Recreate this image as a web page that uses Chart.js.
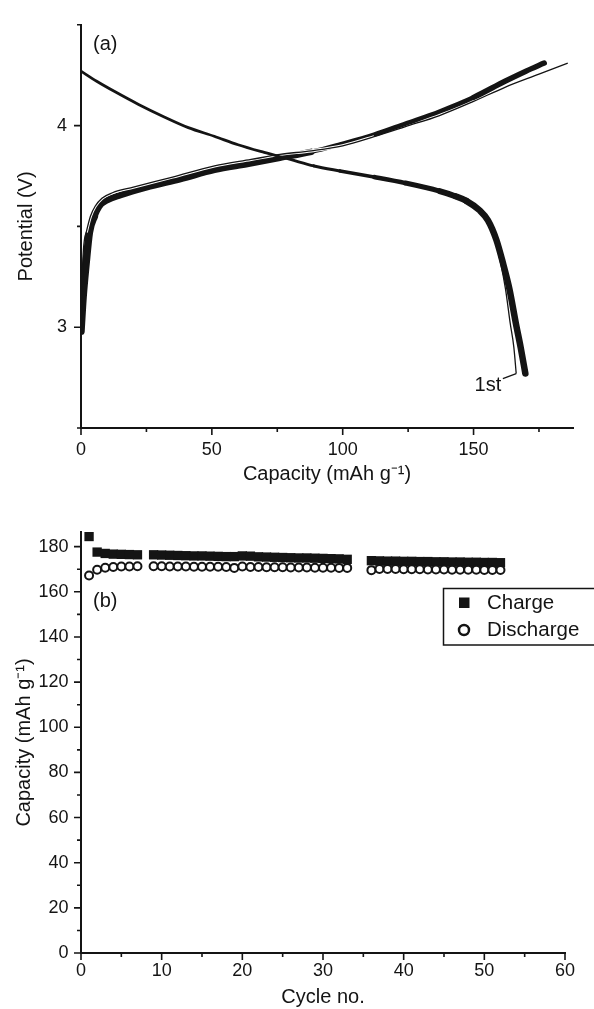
<!DOCTYPE html>
<html lang="en">
<head>
<meta charset="UTF-8" />
<title>Charge/discharge profiles and cycling</title>
<script src="https://cdn.jsdelivr.net/npm/chart.js"></script>
<style>
  html, body { margin: 0; padding: 0; background: #fff; }
  body { width: 594px; height: 1009px; position: relative; overflow: hidden; }
  canvas { position: absolute; left: 0; display: block; }
  #profiles { top: 0; }
  #cycling { top: 500px; }
</style>
</head>
<body>
<canvas id="profiles" width="594" height="500"></canvas>
<canvas id="cycling" width="594" height="509"></canvas>

<script>
  // ---- (a) potential profiles ----
  const chargeCap = [0, 0.8, 1.9, 3.2, 5.1, 7, 10, 15, 25, 38, 51, 64, 76, 88, 99, 112, 124, 137, 150, 162, 170, 177];
  const chargeV   = [2.98, 3.15, 3.31, 3.47, 3.55, 3.6, 3.63, 3.655, 3.694, 3.735, 3.78, 3.81, 3.84, 3.87, 3.907, 3.955, 4.01, 4.07, 4.14, 4.22, 4.27, 4.31];

  const dischargeCap = [0, 6, 12.7, 22, 31.8, 41, 50.9, 60, 70, 80, 89, 99, 112, 124, 137, 143, 147.2, 152.3, 155.5, 158.7, 161.2, 163.7, 166.2, 168, 169.8];
  const dischargeV   = [4.27, 4.22, 4.17, 4.105, 4.043, 3.99, 3.947, 3.905, 3.867, 3.832, 3.8, 3.775, 3.745, 3.715, 3.675, 3.65, 3.627, 3.58, 3.53, 3.434, 3.32, 3.19, 3.017, 2.9, 2.77];

  const firstChargeCap = [0.3, 0.6, 2.0, 3.6, 5.4, 8, 12, 20, 35, 51, 65, 76, 88, 100, 112, 124, 137, 150, 162, 175, 186];
  const firstChargeV   = [3.0, 3.3, 3.47, 3.55, 3.6, 3.64, 3.667, 3.695, 3.745, 3.8, 3.832, 3.857, 3.875, 3.9, 3.945, 3.995, 4.05, 4.12, 4.19, 4.255, 4.31];

  const firstDischargeCap = [147.2, 152.3, 155.2, 158.1, 160.3, 162.2, 164.0, 165.4, 166.3];
  const firstDischargeV   = [3.627, 3.58, 3.53, 3.434, 3.32, 3.19, 3.02, 2.9, 2.77];

  const capTicks = [0, 50, 100, 150];
  const capMinorTicks = [25, 75, 125, 175];
  const potTicks = [3, 4];
  const potMinorTicks = [2.5, 3.5, 4.5];

  // ---- (b) capacity vs cycle number ----
  const cycleNo = [1, 2, 3, 4, 5, 6, 7,
    9, 10, 11, 12, 13, 14, 15, 16, 17, 18, 19, 20, 21, 22, 23, 24, 25, 26, 27, 28, 29, 30, 31, 32, 33,
    36, 37, 38, 39, 40, 41, 42, 43, 44, 45, 46, 47, 48, 49, 50, 51, 52];
  const chargeCapacity = [184.5, 177.6, 177.0, 176.7, 176.6, 176.5, 176.4,
    176.4, 176.3, 176.2, 176.1, 176.0, 175.9, 175.9, 175.8, 175.7, 175.6, 175.6, 175.9, 175.8, 175.5, 175.4, 175.3, 175.2, 175.1, 175.0, 175.0, 174.9, 174.8, 174.7, 174.6, 174.4,
    173.8, 173.7, 173.6, 173.6, 173.5, 173.5, 173.4, 173.4, 173.3, 173.3, 173.2, 173.2, 173.1, 173.1, 173.0, 173.0, 172.9];
  const dischargeCapacity = [167.2, 169.8, 170.7, 171.0, 171.2, 171.2, 171.3,
    171.3, 171.3, 171.2, 171.2, 171.2, 171.1, 171.1, 171.1, 171.1, 171.0, 170.6, 171.2, 171.0, 171.0, 170.9, 170.9, 170.9, 170.8, 170.8, 170.8, 170.7, 170.7, 170.7, 170.6, 170.6,
    169.6, 170.1, 170.1, 170.1, 170.0, 170.0, 170.0, 169.9, 169.9, 169.9, 169.8, 169.8, 169.8, 169.8, 169.7, 169.7, 169.7];

  const cycleTicks = [0, 10, 20, 30, 40, 50, 60];
  const cycleMinorTicks = [5, 15, 25, 35, 45, 55];
  const capacityTicks = [0, 20, 40, 60, 80, 100, 120, 140, 160, 180];
  const capacityMinorTicks = [10, 30, 50, 70, 90, 110, 130, 150, 170];

  const INK = '#141414';
  const FONT = "'Liberation Sans', Arial, sans-serif";
  Chart.defaults.font.family = FONT;
  Chart.defaults.color = INK;

  const pts = (xs, ys) => xs.map((x, i) => ({ x: x, y: ys[i] }));

  // tick marks (major long, minor short) drawn on the axes
  const axisTicks = {
    id: 'axisTicks',
    afterDraw(chart, args, opts) {
      const { ctx, chartArea: a } = chart;
      const xs = chart.scales.x, ys = chart.scales.y;
      ctx.save();
      ctx.strokeStyle = INK;
      ctx.lineWidth = 1.6;
      ctx.beginPath();
      const tx = (vals, len) => vals.forEach(v => {
        const p = xs.getPixelForValue(v);
        ctx.moveTo(p, a.bottom); ctx.lineTo(p, a.bottom + len);
      });
      const ty = (vals, len) => vals.forEach(v => {
        const p = ys.getPixelForValue(v);
        ctx.moveTo(a.left, p); ctx.lineTo(a.left - len, p);
      });
      tx(opts.xMajor, 7); tx(opts.xMinor, 4);
      ty(opts.yMajor, 7); ty(opts.yMinor, 4);
      ctx.stroke();
      ctx.restore();
    }
  };

  // "(a)" / "(b)" panel tags
  const panelTag = {
    id: 'panelTag',
    afterDraw(chart, args, opts) {
      const { ctx, chartArea: a } = chart;
      ctx.save();
      ctx.fillStyle = INK;
      ctx.font = '20px ' + FONT;
      ctx.textBaseline = 'middle';
      ctx.fillText(opts.text, a.left + 12, a.top + opts.dy);
      ctx.restore();
    }
  };

  // "1st" label with its leader line
  const firstLabel = { text: '1st', cap: 160.6, v: 2.71, fromCap: 166.3, fromV: 2.77, toCap: 161.2, toV: 2.745 };
  const cycleLabel = {
    id: 'cycleLabel',
    afterDatasetsDraw(chart) {
      const { ctx } = chart;
      const xs = chart.scales.x, ys = chart.scales.y;
      ctx.save();
      ctx.strokeStyle = INK;
      ctx.lineWidth = 1.3;
      ctx.beginPath();
      ctx.moveTo(xs.getPixelForValue(firstLabel.fromCap), ys.getPixelForValue(firstLabel.fromV));
      ctx.lineTo(xs.getPixelForValue(firstLabel.toCap), ys.getPixelForValue(firstLabel.toV));
      ctx.stroke();
      ctx.fillStyle = INK;
      ctx.font = '20px ' + FONT;
      ctx.textAlign = 'right';
      ctx.textBaseline = 'middle';
      ctx.fillText(firstLabel.text, xs.getPixelForValue(firstLabel.cap), ys.getPixelForValue(firstLabel.v));
      ctx.restore();
    }
  };

  // boxed legend for (b), partly running off the right edge like the original
  const boxLegend = {
    id: 'boxLegend',
    afterDraw(chart) {
      const { ctx } = chart;
      ctx.save();
      ctx.strokeStyle = INK;
      ctx.lineWidth = 1.5;
      ctx.strokeRect(443.5, 88.5, 170, 56.5);
      ctx.fillStyle = INK;
      ctx.fillRect(459, 97.5, 10.5, 10.5);
      ctx.beginPath();
      ctx.arc(464, 130, 5, 0, Math.PI * 2);
      ctx.fillStyle = '#fff';
      ctx.fill();
      ctx.lineWidth = 2.5;
      ctx.stroke();
      ctx.fillStyle = INK;
      ctx.font = '20.5px ' + FONT;
      ctx.textBaseline = 'middle';
      ctx.fillText('Charge', 487, 103);
      ctx.fillText('Discharge', 487, 130);
      ctx.restore();
    }
  };

  const setTicks = list => scale => { scale.ticks = list.map(v => ({ value: v })); };

  // ---------------- chart (a) ----------------
  const chargeWidth = x => x < 5 ? 7.5 : x < 80 ? 6.5 : x < 150 ? 4.5 : 5.5;
  const dischargeWidth = x => x < 85 ? 2.8 : Math.min(6.5, 2.8 + (x - 85) * 0.06);

  new Chart(document.getElementById('profiles'), {
    type: 'scatter',
    data: {
      datasets: [
        {
          data: pts(firstDischargeCap, firstDischargeV), showLine: true, order: 0,
          borderColor: INK, borderWidth: 1.3, pointRadius: 0, cubicInterpolationMode: 'monotone'
        },
        {
          data: pts(dischargeCap, dischargeV), showLine: true, order: 1,
          borderColor: INK, borderWidth: 2.8, pointRadius: 0, cubicInterpolationMode: 'monotone',
          borderCapStyle: 'round',
          segment: { borderWidth: c => dischargeWidth(c.p0.parsed.x) }
        },
        {
          data: pts(firstChargeCap, firstChargeV), showLine: true, order: 2,
          borderColor: INK, borderWidth: 1.3, pointRadius: 0, cubicInterpolationMode: 'monotone'
        },
        {
          data: pts(firstChargeCap, firstChargeV), showLine: true, order: 3,
          borderColor: '#fff', borderWidth: 3.2, pointRadius: 0, cubicInterpolationMode: 'monotone',
          segment: { borderColor: c => c.p0.parsed.x < 110 && c.p0.parsed.x > 1.4 ? '#fff' : 'rgba(0,0,0,0)' }
        },
        {
          data: pts(chargeCap, chargeV), showLine: true, order: 4,
          borderColor: INK, borderWidth: 6.5, pointRadius: 0, cubicInterpolationMode: 'monotone',
          borderCapStyle: 'round',
          segment: { borderWidth: c => chargeWidth(c.p0.parsed.x) }
        }
      ]
    },
    options: {
      responsive: false,
      animation: false,
      events: [],
      layout: { padding: { top: 15, right: 21, left: 0, bottom: 0 } },
      plugins: {
        legend: { display: false },
        tooltip: { enabled: false },
        axisTicks: { xMajor: capTicks, xMinor: capMinorTicks, yMajor: potTicks, yMinor: potMinorTicks },
        panelTag: { text: '(a)', dy: 20 }
      },
      scales: {
        x: {
          type: 'linear', min: 0, max: 188,
          afterBuildTicks: setTicks(capTicks),
          afterFit: s => { s.height = 72; },
          grid: { display: false, drawTicks: false },
          border: { display: true, color: INK, width: 2 },
          ticks: { padding: 11, font: { size: 18 }, color: INK, maxRotation: 0 },
          title: { display: true, text: 'Capacity (mAh g\u207B\u00B9)', font: { size: 20 }, color: INK, padding: { top: 0, bottom: 14 } }
        },
        y: {
          type: 'linear', min: 2.5, max: 4.5,
          afterBuildTicks: setTicks(potTicks),
          afterFit: s => { s.width = 81; },
          grid: { display: false, drawTicks: false },
          border: { display: true, color: INK, width: 2 },
          ticks: { padding: 14, font: { size: 18 }, color: INK },
          title: { display: true, text: 'Potential (V)', font: { size: 20 }, color: INK, padding: { top: 14, bottom: 0 } }
        }
      }
    },
    plugins: [axisTicks, panelTag, cycleLabel]
  });

  // ---------------- chart (b) ----------------
  new Chart(document.getElementById('cycling'), {
    type: 'scatter',
    data: {
      datasets: [
        {
          label: 'Discharge',
          data: pts(cycleNo, dischargeCapacity),
          pointStyle: 'circle', pointRadius: 4, pointBorderWidth: 2,
          pointBackgroundColor: '#fff', pointBorderColor: INK
        },
        {
          label: 'Charge',
          data: pts(cycleNo, chargeCapacity),
          pointStyle: 'rect', pointRadius: 6.6, pointBorderWidth: 0,
          pointBackgroundColor: INK, pointBorderColor: INK
        }
      ]
    },
    options: {
      responsive: false,
      animation: false,
      events: [],
      layout: { padding: { top: 32, right: 29, left: 0, bottom: 0 } },
      plugins: {
        legend: { display: false },
        tooltip: { enabled: false },
        axisTicks: { xMajor: cycleTicks, xMinor: cycleMinorTicks, yMajor: capacityTicks, yMinor: capacityMinorTicks },
        panelTag: { text: '(b)', dy: 69 }
      },
      scales: {
        x: {
          type: 'linear', min: 0, max: 60,
          afterBuildTicks: setTicks(cycleTicks),
          afterFit: s => { s.height = 56; },
          grid: { display: false, drawTicks: false },
          border: { display: true, color: INK, width: 2 },
          ticks: { padding: 7.5, font: { size: 18 }, color: INK, maxRotation: 0 },
          title: { display: true, text: 'Cycle no.', font: { size: 20 }, color: INK, padding: { top: 0, bottom: 0 } }
        },
        y: {
          type: 'linear', min: 0, max: 186.5,
          afterBuildTicks: setTicks(capacityTicks),
          afterFit: s => { s.width = 81; },
          grid: { display: false, drawTicks: false },
          border: { display: true, color: INK, width: 2 },
          ticks: { padding: 12.5, font: { size: 18 }, color: INK },
          title: { display: true, text: 'Capacity (mAh g\u207B\u00B9)', font: { size: 20 }, color: INK, padding: { top: 12, bottom: 0 } }
        }
      }
    },
    plugins: [axisTicks, panelTag, boxLegend]
  });
</script>
</body>
</html>
